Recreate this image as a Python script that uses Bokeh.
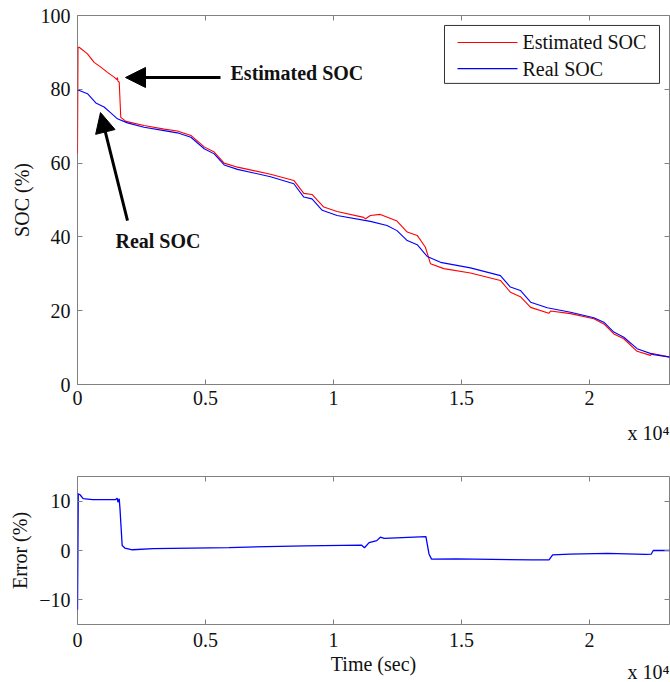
from bokeh.plotting import figure
from bokeh.models import (FixedTicker, LinearAxis, Range1d, BoxAnnotation,
                          Arrow, NormalHead, Label, Title)
from bokeh.layouts import column
from bokeh.embed import file_html
from bokeh.resources import INLINE

# ---------------- data ----------------
real_t = [0, 390, 716, 1040, 1300, 1560, 1950, 2600, 3385, 3900, 4430, 4950, 5340,
          5730, 6250, 7540, 8450, 8840, 9160, 9560, 10140, 11440, 12090, 12480,
          12880, 13270, 13660, 14180, 15350, 16520, 16910, 17300, 17700, 18350,
          19260, 20170, 20560, 20950, 21340, 21860, 22510, 23160]
real_soc = [79.9, 78.8, 76.3, 75.2, 73.6, 72.0, 70.9, 69.7, 68.8, 68.2, 67.0, 63.9,
            62.5, 59.5, 58.3, 56.3, 54.4, 50.8, 50.3, 47.2, 45.8, 44.2, 43.1, 41.7,
            39.0, 37.9, 34.7, 33.1, 31.6, 29.5, 26.4, 25.5, 22.3, 20.8, 19.6, 18.1,
            16.9, 14.2, 12.8, 9.7, 8.1, 7.4]

est_t = [0, 20, 65, 390, 650, 910, 1170, 1430, 1540, 1560, 1580, 1630, 1690, 1890,
         2600, 3385, 3900, 4430, 4950, 5340, 5730, 6250, 7540, 8450, 8840, 9160,
         9620, 10140, 11180, 11250, 11440, 11830, 12480, 12880, 13270, 13590,
         13790, 14310, 15350, 16520, 16910, 17300, 17700, 18410, 18480, 19260,
         20170, 20560, 20950, 21340, 21860, 22380, 22450, 23160]
est_soc = [62.6, 91.4, 91.4, 89.6, 87.3, 86.0, 84.6, 83.3, 82.6, 83.2, 82.2, 81.9,
           72.4, 71.3, 70.2, 69.2, 68.7, 67.5, 64.4, 63.0, 60.0, 58.9, 57.0, 55.3,
           51.8, 51.5, 48.1, 46.9, 45.3, 44.9, 45.8, 46.1, 44.3, 41.3, 40.4, 37.2,
           32.7, 31.4, 30.2, 28.2, 25.0, 23.8, 20.9, 19.3, 19.9, 19.2, 17.8, 16.4,
           13.7, 12.4, 9.0, 7.9, 8.4, 7.4]

err_t = [0, 30, 100, 220, 590, 1480, 1550, 1580, 1630, 1660, 1745, 1850, 2145, 2960,
         5920, 8880, 11090, 11210, 11390, 11690, 11830, 11980, 13610, 13730, 13830,
         14790, 17750, 18420, 18560, 19230, 20710, 22190, 22410, 22490, 23160]
err_val = [-12.0, 11.5, 11.3, 10.5, 10.3, 10.3, 10.6, 9.8, 10.5, 8.4, 1.0, 0.5, 0.15,
           0.4, 0.6, 0.95, 1.1, 0.55, 1.6, 2.0, 2.7, 2.45, 2.8, -0.7, -1.75, -1.7,
           -1.9, -1.9, -0.9, -0.75, -0.6, -0.8, -0.75, 0.0, 0.0]

series_names = ["Estimated SOC", "Real SOC"]
series_colors = ["#ff0000", "#0000ff"]
x_ticks = [0, 5000, 10000, 15000, 20000]
x_tick_labels = ["0", "0.5", "1", "1.5", "2"]
soc_ticks = [0, 20, 40, 60, 80, 100]
err_ticks = [-10, 0, 10]
x_max = 23125

# ---------------- style ----------------
FONT = "Liberation Serif"
AX = "#808080"
TXT = "#111111"


def base_fig(height, ymin, ymax, top_b, bottom_b):
    p = figure(width=670, height=height, output_backend="svg", toolbar_location=None,
               x_range=Range1d(0, x_max), y_range=Range1d(ymin, ymax),
               min_border_left=77, min_border_right=1, min_border_top=top_b,
               min_border_bottom=bottom_b, background_fill_color="white",
               border_fill_color="white", outline_line_color=AX, outline_line_width=1)
    p.xgrid.visible = False
    p.ygrid.visible = False
    return p


def style_axis(ax, ticks, labels=None):
    ax.ticker = FixedTicker(ticks=ticks)
    ax.axis_line_color = None
    ax.major_tick_line_color = AX
    ax.major_tick_in = 5
    ax.major_tick_out = 0
    ax.minor_tick_line_color = None
    ax.major_label_text_font = FONT
    ax.major_label_text_font_size = "20px"
    ax.major_label_text_color = TXT
    ax.axis_label_text_font = FONT
    ax.axis_label_text_font_size = "20px"
    ax.axis_label_text_font_style = "normal"
    ax.axis_label_text_color = TXT
    if labels is not None:
        ax.major_label_overrides = {t: l for t, l in zip(ticks, labels)}


def add_box_ticks(p, xt, yt):
    for ticks, side in ((xt, "above"), (yt, "right")):
        ax = LinearAxis(ticker=FixedTicker(ticks=ticks), axis_line_color=None,
                        major_tick_line_color=AX, major_tick_in=5, major_tick_out=0,
                        minor_tick_line_color=None, major_label_text_font_size="1px",
                        major_label_standoff=0,
                        major_label_overrides={t: "" for t in ticks})
        p.add_layout(ax, side)


def exp_title(standoff, valign="bottom"):
    return Title(text="x 10\u2074", align="right", text_font=FONT,
                 text_font_size="20px", text_font_style="normal", text_color=TXT,
                 standoff=standoff, offset=0, vertical_align=valign)


# ---------------- top: SOC ----------------
p1 = base_fig(455, 0, 100, 15, 71)
p1.line(est_t, est_soc, line_color=series_colors[0], line_width=1.1)
p1.line(real_t, real_soc, line_color=series_colors[1], line_width=1.1)
style_axis(p1.xaxis[0], x_ticks, x_tick_labels)
style_axis(p1.yaxis[0], soc_ticks)
p1.yaxis[0].axis_label = "SOC (%)"
p1.xaxis[0].major_label_standoff = 6
p1.yaxis[0].major_label_standoff = 7
add_box_ticks(p1, x_ticks, soc_ticks)
p1.add_layout(exp_title(24), "below")

p1.add_layout(Arrow(end=NormalHead(size=20, fill_color="black", line_color="black"),
                    x_start=5586, y_start=83.2, x_end=1875, y_end=83.2,
                    line_width=3, line_color="black"))
p1.add_layout(Arrow(end=NormalHead(size=20, fill_color="black", line_color="black"),
                    x_start=1953, y_start=44.4, x_end=898, y_end=73.7,
                    line_width=3, line_color="black"))
p1.add_layout(Label(x=5977, y=84.3, text="Estimated SOC", text_font=FONT,
                    text_font_style="bold", text_font_size="20px",
                    text_baseline="middle", text_color=TXT))
p1.add_layout(Label(x=1484, y=38.8, text="Real  SOC", text_font=FONT,
                    text_font_style="bold", text_font_size="20px",
                    text_baseline="middle", text_color=TXT))

# legend (box, line swatches and labels)
p1.add_layout(BoxAnnotation(left=14336, right=22734, top=97.3, bottom=81.6,
                            fill_color="white", fill_alpha=1.0,
                            line_color="#333333", line_width=1, line_alpha=1.0))
for name, color, ly in zip(series_names, series_colors, (92.7, 85.6)):
    p1.add_layout(Arrow(start=None, end=None, x_start=14844, x_end=17188,
                        y_start=ly, y_end=ly, line_color=color, line_width=1.1))
    p1.add_layout(Label(x=17383, y=ly, text=name, text_font=FONT,
                        text_font_size="20px", text_baseline="middle",
                        text_color=TXT))

# ---------------- bottom: error ----------------
p2 = base_fig(227, -15, 15, 21, 58)
p2.line(err_t, err_val, line_color=series_colors[1], line_width=1.3)
style_axis(p2.xaxis[0], x_ticks, x_tick_labels)
style_axis(p2.yaxis[0], err_ticks)
p2.yaxis[0].axis_label = "Error (%)"
p2.xaxis[0].major_label_standoff = 8
p2.yaxis[0].major_label_standoff = 7
add_box_ticks(p2, x_ticks, err_ticks)
p2.add_layout(Title(text="Time (sec)", align="center", text_font=FONT,
                    text_font_size="20px", text_font_style="normal",
                    text_color=TXT, standoff=2), "below")
p2.add_layout(exp_title(-30, "top"), "below")

layout = column(p1, p2, spacing=0)
open("out.html", "w").write(file_html(layout, INLINE))
